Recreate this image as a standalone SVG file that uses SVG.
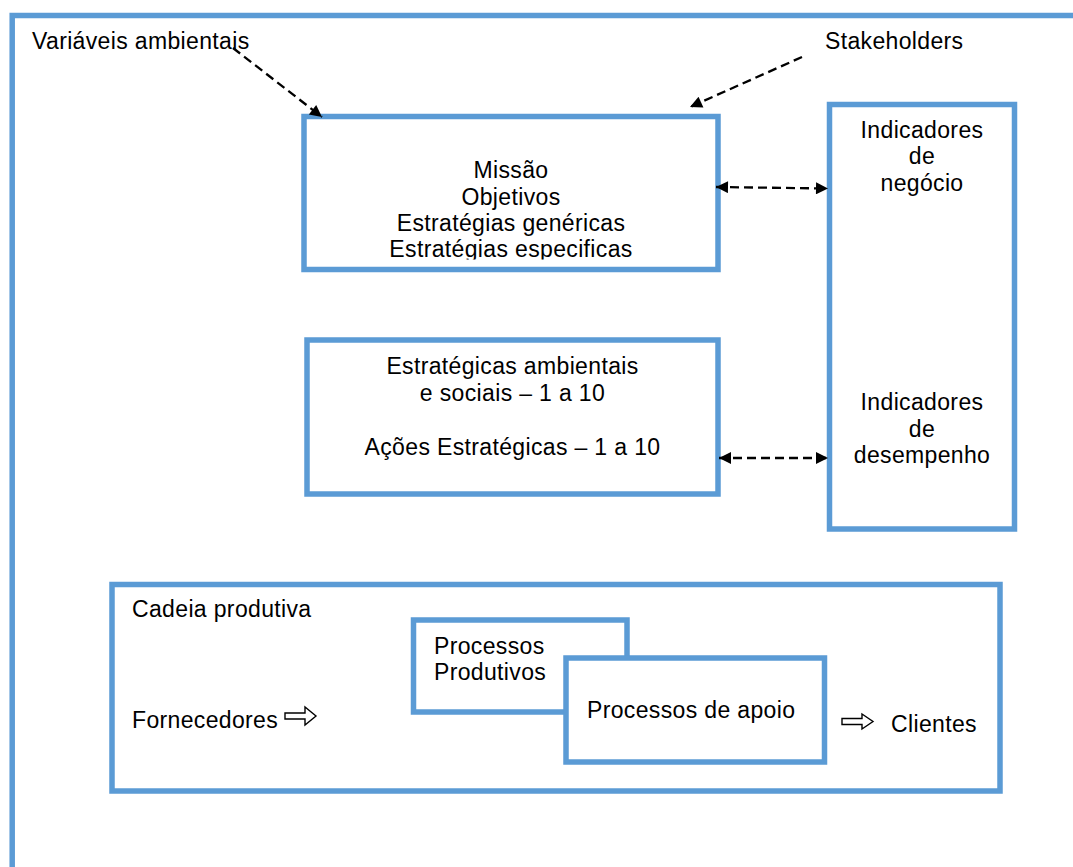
<svg xmlns="http://www.w3.org/2000/svg" width="1073" height="867" viewBox="0 0 1073 867">
  <defs>
    <style>
      .box { fill: #ffffff; stroke: #5B9BD5; stroke-width: 5.5; }
      .t { font-family: "Liberation Sans", Arial, sans-serif; font-size: 23px; letter-spacing: 0.35px; fill: #000000; }
      .c { text-anchor: middle; }
      .dash { fill: none; stroke: #000000; stroke-width: 2.3; stroke-dasharray: 9 5; }
      .hollow { fill: #ffffff; stroke: #000000; stroke-width: 1.4; stroke-linejoin: miter; }
    </style>
    <marker id="ah" viewBox="0 0 10 10" refX="10" refY="5" markerWidth="14" markerHeight="12" orient="auto-start-reverse" markerUnits="userSpaceOnUse">
      <path d="M0,0 L10,5 L0,10 z" fill="#000000"/>
    </marker>
    <clipPath id="missClip">
      <rect x="304" y="116" width="414" height="143.5"/>
    </clipPath>
  </defs>

  <rect width="1073" height="867" fill="#ffffff"/>

  <g id="frame">
    <path d="M12.2,880 L12.2,15.5 L1090,15.5" fill="none" stroke="#5B9BD5" stroke-width="5.5"/>
  </g>

  <g id="variaveis">
    <text class="t" x="32" y="49">Variáveis ambientais</text>
  </g>
  <g id="stakeholders">
    <text class="t" x="825" y="49">Stakeholders</text>
  </g>

  <g id="missao">
    <rect class="box" x="304" y="116.5" width="414" height="153"/>
    <g clip-path="url(#missClip)">
      <text class="t c" x="511" y="178.3">Missão</text>
      <text class="t c" x="511" y="204.6">Objetivos</text>
      <text class="t c" x="511" y="230.9">Estratégias genéricas</text>
      <text class="t c" x="511" y="257.2">Estratégias especificas</text>
    </g>
  </g>

  <g id="indicadores">
    <rect class="box" x="829.5" y="104.5" width="185" height="424.5"/>
    <text class="t c" x="922" y="137.7">Indicadores</text>
    <text class="t c" x="922" y="164">de</text>
    <text class="t c" x="922" y="190.5">negócio</text>
    <text class="t c" x="922" y="410">Indicadores</text>
    <text class="t c" x="922" y="436.5">de</text>
    <text class="t c" x="922" y="463">desempenho</text>
  </g>

  <g id="estrategicas">
    <rect class="box" x="307" y="340" width="411" height="154"/>
    <text class="t c" x="512.5" y="374.3">Estratégicas ambientais</text>
    <text class="t c" x="512.5" y="400.7">e sociais – 1 a 10</text>
    <text class="t c" x="512.5" y="455">Ações Estratégicas – 1 a 10</text>
  </g>

  <g id="cadeia">
    <rect class="box" x="112" y="584.5" width="888" height="206.5"/>
    <text class="t" x="132" y="617.3">Cadeia produtiva</text>
    <text class="t" x="132" y="728">Fornecedores</text>
    <text class="t" x="891" y="732">Clientes</text>
  </g>

  <g id="produtivos">
    <rect class="box" x="413.5" y="620" width="213.5" height="92"/>
    <text class="t" x="434" y="654">Processos</text>
    <text class="t" x="434" y="680">Produtivos</text>
  </g>

  <g id="apoio">
    <rect class="box" x="566" y="658" width="258.5" height="104"/>
    <text class="t" x="587" y="718">Processos de apoio</text>
  </g>

  <g id="connectors">
    <path class="dash" d="M233,48 L322,117" marker-end="url(#ah)"/>
    <path class="dash" d="M802,57 L690,107" marker-end="url(#ah)"/>
    <path class="dash" d="M716,187 L828,188.5" marker-start="url(#ah)" marker-end="url(#ah)"/>
    <path class="dash" d="M719,458 L828,458" marker-start="url(#ah)" marker-end="url(#ah)"/>
    <path class="hollow" d="M285,713 L305,713 L305,707 L316,716 L305,725 L305,719 L285,719 Z"/>
    <path class="hollow" d="M842,718.5 L862,718.5 L862,714 L873,721.5 L862,729 L862,724.5 L842,724.5 Z"/>
  </g>
</svg>
